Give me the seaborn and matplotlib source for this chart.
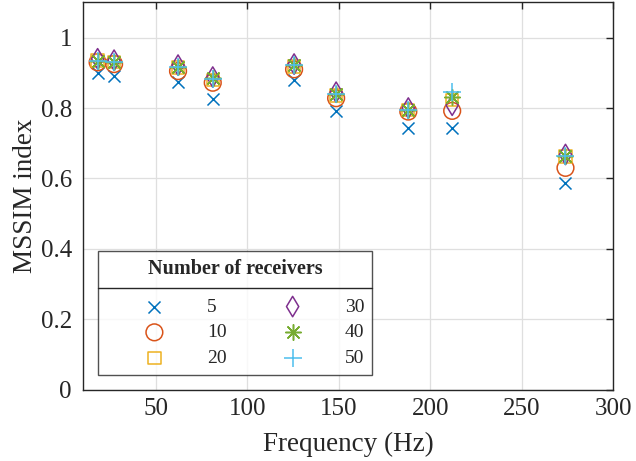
import matplotlib
matplotlib.use("Agg")
import matplotlib.pyplot as plt
import seaborn as sns
import pandas as pd
from matplotlib.lines import Line2D

freqs = [18, 27, 62, 81, 125.5, 148.5, 188, 212, 274]
receivers = ["5", "10", "20", "30", "40", "50"]
mssim_5 = [0.900, 0.892, 0.873, 0.825, 0.879, 0.792, 0.742, 0.744, 0.587]
mssim_10 = [0.930, 0.925, 0.905, 0.872, 0.910, 0.828, 0.790, 0.792, 0.630]
mssim_20 = [0.935, 0.930, 0.915, 0.880, 0.918, 0.836, 0.795, 0.822, 0.662]
mssim_30 = [0.940, 0.936, 0.922, 0.888, 0.925, 0.845, 0.800, 0.808, 0.668]
mssim_40 = [0.935, 0.932, 0.918, 0.884, 0.921, 0.840, 0.795, 0.830, 0.665]
mssim_50 = [0.935, 0.930, 0.918, 0.882, 0.921, 0.840, 0.795, 0.845, 0.665]
series = [mssim_5, mssim_10, mssim_20, mssim_30, mssim_40, mssim_50]

colors = ["#0072BD", "#D95319", "#EDB120", "#7E2F8E", "#77AC30", "#4DBEEE"]
markers = ["x", "o", "s", "d", (8, 2, 0), "+"]
sizes = [75, 145, 78, 108, 125, 175]

sns.set_style("white")
plt.rcParams["font.family"] = ["Liberation Serif", "DejaVu Serif"]
plt.rcParams["mathtext.fontset"] = "stix"

fig = plt.figure(figsize=(6.36, 4.61), dpi=100)
ax = fig.add_axes([83 / 636, (461 - 389.5) / 461, 530 / 636, 387 / 461])

for lab, vals, c, m, s in zip(receivers, series, colors, markers, sizes):
    df = pd.DataFrame({"Frequency": freqs, "MSSIM": vals})
    if m in ("x", "+", (8, 2, 0)):
        sns.scatterplot(data=df, x="Frequency", y="MSSIM", ax=ax, marker=m,
                        color=c, s=s, linewidth=1.1, label=lab, zorder=3)
    else:
        sns.scatterplot(data=df, x="Frequency", y="MSSIM", ax=ax, marker=m,
                        facecolors="none", edgecolors=c, s=s, linewidth=1.1,
                        label=lab, zorder=3)

ax.set_xlim(10, 300)
ax.set_ylim(0, 1.1)
ax.set_xticks([50, 100, 150, 200, 250, 300])
ax.set_yticks([0, 0.2, 0.4, 0.6, 0.8, 1.0])
ax.set_yticklabels(["0", "0.2", "0.4", "0.6", "0.8", "1"])
ax.grid(True, color="#dfdfdf", linewidth=0.9)
ax.set_axisbelow(True)
for sp in ax.spines.values():
    sp.set_color("#262626")
    sp.set_linewidth(1.0)
    sp.set_visible(True)
ax.tick_params(direction="in", top=True, right=True, length=5, width=1.0,
               colors="#262626", labelsize=18)
ax.tick_params(axis="x", pad=6)
ax.tick_params(axis="y", pad=8)
ax.set_xlabel("Frequency (Hz)", fontsize=19.5, color="#262626", labelpad=9)
ax.set_ylabel("MSSIM index", fontsize=19.5, color="#262626", labelpad=2)

handles, labels = ax.get_legend_handles_labels()
leg = ax.legend(handles, labels, ncol=2, loc="lower left",
                bbox_to_anchor=((98 - 83) / 530, (389.5 - 375) / 387),
                borderaxespad=0,
                title="Number of receivers\n", fontsize=14,
                title_fontproperties={"weight": "bold", "size": 14.5},
                frameon=True, fancybox=False, edgecolor="#262626",
                handletextpad=0.2, handlelength=5.0, columnspacing=0.9,
                labelspacing=0.42, borderpad=0.4, scatterpoints=1)
leg.get_title().set_linespacing(0.4)
leg.get_frame().set_linewidth(1.0)
leg.set_zorder(5)

fig.canvas.draw()
bb = leg.get_window_extent()
t0 = leg.get_texts()[0].get_window_extent()
ysep = (t0.y0 + t0.y1) / 2 + 19
line = Line2D([bb.x0, bb.x1], [ysep, ysep], transform=None, color="#262626",
              linewidth=1.0, zorder=6)
fig.add_artist(line)

fig.savefig("out.png", dpi=100)
